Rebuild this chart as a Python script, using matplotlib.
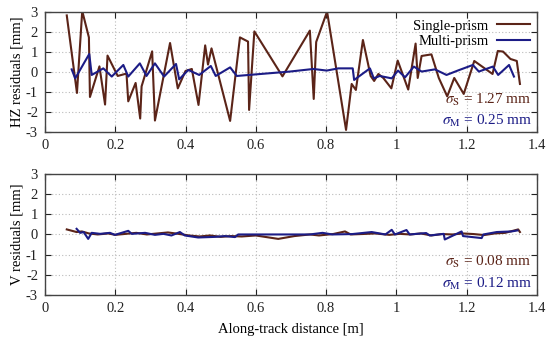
import matplotlib
matplotlib.use("Agg")
import matplotlib.pyplot as plt
import numpy as np

plt.rcParams['font.family'] = ['Liberation Serif', 'DejaVu Serif']
plt.rcParams['mathtext.fontset'] = 'stix'
plt.rcParams['axes.unicode_minus'] = False

# ---- Top panel: HZ residuals ----
hz_single_x = [0.062, 0.091, 0.106, 0.125, 0.128, 0.155, 0.171, 0.178, 0.207, 0.232,
               0.237, 0.258, 0.271, 0.275, 0.305, 0.313, 0.356, 0.378, 0.400, 0.418,
               0.437, 0.456, 0.464, 0.474, 0.527, 0.555, 0.578, 0.581, 0.596, 0.676,
               0.754, 0.765, 0.772, 0.803, 0.857, 0.873, 0.885, 0.905, 0.927, 0.937,
               0.949, 0.963, 0.986, 1.004, 1.034, 1.055, 1.061, 1.072, 1.100, 1.121,
               1.145, 1.165, 1.192, 1.222, 1.274, 1.289, 1.304, 1.325, 1.343, 1.352]
hz_single_y = [2.83, -1.05, 3.05, 1.73, -1.25, 0.28, -1.63, 0.82, -0.20, -0.08,
               -1.47, -0.55, -2.33, -0.72, 1.03, -2.43, 1.45, -0.82, 0.05, 0.15,
               -1.65, 1.33, 0.37, 1.18, -2.45, 1.73, 1.52, -1.90, 2.03, -0.22,
               2.07, -1.35, 1.50, 3.02, -2.90, -0.60, -0.90, 1.60, -0.20, -0.45,
               -0.10, -0.30, -0.82, 0.57, -0.88, 1.42, -0.30, 0.80, 0.88, -0.30,
               -1.22, -0.30, -1.10, 0.55, -0.10, 1.05, 1.02, 0.65, 0.55, -0.60]

hz_multi_x = [0.076, 0.086, 0.126, 0.133, 0.166, 0.190, 0.223, 0.237, 0.270, 0.289,
              0.313, 0.339, 0.373, 0.382, 0.408, 0.439, 0.472, 0.486, 0.527, 0.546,
              0.697, 0.764, 0.802, 0.835, 0.876, 0.880, 0.925, 0.936, 0.953, 0.987,
              1.005, 1.025, 1.050, 1.072, 1.110, 1.143, 1.175, 1.218, 1.235, 1.275,
              1.290, 1.321, 1.335]
hz_multi_y = [0.13, -0.32, 0.90, -0.15, 0.18, -0.23, 0.35, -0.23, 0.43, -0.20,
              0.43, -0.23, 0.40, -0.37, 0.10, -0.15, 0.30, -0.20, 0.23, -0.20,
              0.02, 0.15, 0.07, 0.18, 0.18, -0.40, 0.18, -0.32, -0.20, -0.32,
              0.07, -0.27, 0.27, 0.02, 0.13, -0.15, 0.07, 0.35, 0.02, 0.27,
              -0.15, 0.35, -0.23]

# ---- Bottom panel: V residuals ----
v_single_x = [0.062, 0.090, 0.105, 0.125, 0.150, 0.180, 0.200, 0.230, 0.260, 0.290,
              0.320, 0.350, 0.380, 0.410, 0.440, 0.470, 0.500, 0.530, 0.560, 0.600,
              0.664, 0.710, 0.754, 0.780, 0.820, 0.854, 0.870, 0.900, 0.940, 0.980,
              1.010, 1.040, 1.070, 1.100, 1.130, 1.160, 1.190, 1.220, 1.250, 1.280,
              1.310, 1.347, 1.352]
v_single_y = [0.25, 0.12, 0.15, 0.05, 0.00, 0.05, -0.02, 0.03, 0.08, 0.00,
              0.05, 0.10, 0.03, -0.05, -0.10, -0.05, -0.12, -0.08, -0.10, -0.05,
              -0.22, -0.08, 0.00, -0.05, 0.02, 0.15, 0.00, 0.02, 0.05, -0.02,
              0.03, 0.00, 0.05, -0.05, 0.02, 0.00, 0.05, 0.02, -0.03, 0.05,
              0.08, 0.25, 0.12]

v_multi_x = [0.090, 0.100, 0.110, 0.123, 0.133, 0.157, 0.185, 0.199, 0.237, 0.247,
             0.285, 0.313, 0.337, 0.360, 0.384, 0.398, 0.436, 0.484, 0.512, 0.541,
             0.550, 0.700, 0.754, 0.790, 0.818, 0.875, 0.930, 0.969, 0.987, 0.996,
             1.029, 1.038, 1.085, 1.095, 1.135, 1.138, 1.186, 1.190, 1.243, 1.248,
             1.286, 1.328, 1.345]
v_multi_y = [0.28, 0.08, 0.12, -0.22, 0.08, 0.03, 0.08, -0.02, 0.18, 0.03,
             0.08, -0.02, 0.03, -0.05, 0.12, -0.05, -0.15, -0.12, -0.08, -0.13,
             0.00, 0.00, 0.00, 0.08, 0.00, 0.02, 0.12, 0.00, 0.23, 0.00,
             0.22, 0.00, 0.07, -0.05, 0.03, -0.25, 0.15, -0.08, -0.18, 0.00,
             0.12, 0.15, 0.20]

sigma_hz = ["1.27", "0.25"]
sigma_v = ["0.08", "0.12"]
xticks = [0, 0.2, 0.4, 0.6, 0.8, 1, 1.2, 1.4]
xtick_labels = ["0", "0.2", "0.4", "0.6", "0.8", "1", "1.2", "1.4"]
yticks = [-3, -2, -1, 0, 1, 2, 3]

c_single = '#5b2418'
c_multi = '#1c1c86'
fs = 10.5

fig = plt.figure(figsize=(5.5, 3.49), dpi=100)
ax1 = fig.add_axes([0.0818, 0.622, 0.976 - 0.0818, 0.9656 - 0.622])
ax2 = fig.add_axes([0.0818, 0.155, 0.976 - 0.0818, 0.5014 - 0.155])

for ax in (ax1, ax2):
    ax.set_xlim(0, 1.4)
    ax.set_ylim(-3, 3)
    ax.set_xticks(xticks)
    ax.set_xticklabels(xtick_labels)
    ax.set_yticks(yticks)
    ax.grid(True, color='#bbbbbb', linestyle=(0, (1, 2)), linewidth=0.8)
    ax.tick_params(direction='in', top=True, right=True, length=4,
                   labelsize=fs, colors='#222222', pad=5)
    for sp in ax.spines.values():
        sp.set_color('#444444')
        sp.set_linewidth(1.0)

ax1.plot(hz_single_x, hz_single_y, color=c_single, lw=1.5, label='Single-prism')
ax1.plot(hz_multi_x, hz_multi_y, color=c_multi, lw=1.5, label='Multi-prism')
ax2.plot(v_single_x, v_single_y, color=c_single, lw=1.5)
ax2.plot(v_multi_x, v_multi_y, color=c_multi, lw=1.5)

leg = ax1.legend(loc='upper right', frameon=False, markerfirst=False,
                 fontsize=fs, handlelength=2.2, borderaxespad=0.1,
                 labelspacing=0.15, handletextpad=0.6)
for t in leg.get_texts():
    t.set_ha('right')

for ax, sig in ((ax1, sigma_hz), (ax2, sigma_v)):
    ax.text(0.99, 0.27, r'$\sigma_\mathrm{S}$ = ' + sig[0] + ' mm', transform=ax.transAxes,
            ha='right', va='center', fontsize=fs + 0.5, color=c_single)
    ax.text(0.99, 0.09, r'$\sigma_\mathrm{M}$ = ' + sig[1] + ' mm', transform=ax.transAxes,
            ha='right', va='center', fontsize=fs + 0.5, color=c_multi)

ax1.set_ylabel('HZ residuals [mm]', fontsize=fs, labelpad=2)
ax2.set_ylabel('V residuals [mm]', fontsize=fs, labelpad=2)
ax2.set_xlabel('Along-track distance [m]', fontsize=fs, labelpad=6)

fig.savefig('out.png', dpi=100)
